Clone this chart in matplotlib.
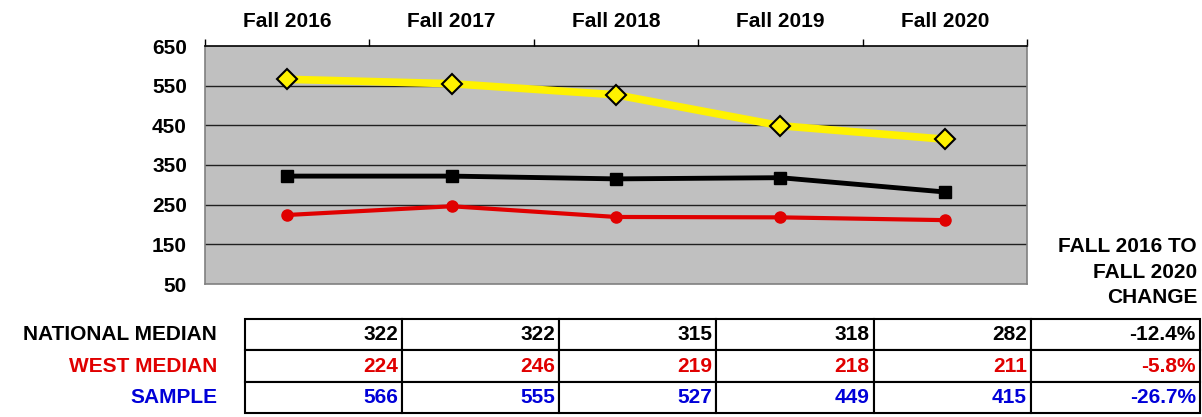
import numpy as np
import matplotlib
matplotlib.use("Agg")
import matplotlib.pyplot as plt

plt.rcParams["font.family"] = ["Liberation Sans", "DejaVu Sans"]
plt.rcParams["font.weight"] = "bold"

# ── data ────────────────────────────────────────────────────────────────────
terms = ["Fall 2016", "Fall 2017", "Fall 2018", "Fall 2019", "Fall 2020"]
national = [322, 322, 315, 318, 282]
west = [224, 246, 219, 218, 211]
sample = [566, 555, 527, 449, 415]
change = ["-12.4%", "-5.8%", "-26.7%"]
row_names = ["NATIONAL MEDIAN", "WEST MEDIAN", "SAMPLE"]
yticks = [50, 150, 250, 350, 450, 550, 650]

RED = "#E00000"; BLUE = "#0000D8"; YEL = "#FFF200"
row_colors = ["black", RED, BLUE]
FS = 15

W, H = 1202, 417
fig = plt.figure(figsize=(W/100, H/100), dpi=100)

def box(l, t, r, b):  # pixel box -> figure fraction
    return [l/W, 1-b/H, (r-l)/W, (b-t)/H]

ax = fig.add_axes(box(205, 46, 1027, 284))
ax.set_facecolor("#C0C0C0")
x = np.arange(len(terms))
ax.plot(x, sample, color=YEL, lw=5.5, marker="D", ms=10, mfc=YEL, mec="black", mew=1.5, zorder=3)
ax.plot(x, national, color="black", lw=3.5, marker="s", ms=8, zorder=3)
ax.plot(x, west, color=RED, lw=3, marker="o", ms=8, zorder=3)

ax.set_xlim(-0.5, len(terms)-0.5)
ax.set_ylim(50, 650)
ax.set_yticks(yticks)
ax.set_yticklabels([str(v) for v in yticks], fontsize=FS, fontweight="bold")
ax.tick_params(axis="y", length=0, pad=13)
for v in yticks[1:-1]:
    ax.axhline(v, color="#202020", lw=1, zorder=1)

ax.xaxis.tick_top()
ax.set_xticks(x)
ax.set_xticklabels(terms, fontsize=FS, fontweight="bold")
ax.set_xticks(np.arange(len(terms)+1)-0.5, minor=True)
ax.tick_params(axis="x", which="major", length=0, pad=11)
ax.tick_params(axis="x", which="minor", length=5, width=1, color="black", direction="out")
for s in ("left", "right", "bottom"):
    ax.spines[s].set_color("#808080"); ax.spines[s].set_linewidth(1.2)
ax.spines["top"].set_color("black"); ax.spines["top"].set_linewidth(1.2)

# change header
fig.text(1197/W, 1-272/H, "FALL 2016 TO\nFALL 2020\nCHANGE", ha="right", va="center",
         fontsize=FS, fontweight="bold", linespacing=1.45)

# ── table ──────────────────────────────────────────────────────────────────
tax = fig.add_axes(box(245, 319, 1200, 413)); tax.axis("off")
cells = [[str(v) for v in row] + [c] for row, c in zip([national, west, sample], change)]
widths = [157]*5 + [169]
tbl = tax.table(cellText=cells, colWidths=[w/sum(widths) for w in widths],
                bbox=[0, 0, 1, 1], cellLoc="right")
tbl.auto_set_font_size(False)
for (r, c), cell in tbl.get_celld().items():
    cell.set_edgecolor("black"); cell.set_linewidth(1.5)
    cell.PAD = 0.025
    cell.get_text().set_fontsize(FS)
    cell.get_text().set_fontweight("bold")
    cell.get_text().set_color(row_colors[r])

for i, (name, col) in enumerate(zip(row_names, row_colors)):
    fig.text(217/W, 1-(335+31.3*i)/H, name, ha="right", va="center",
             fontsize=FS, fontweight="bold", color=col)

fig.savefig("out.png", dpi=100)
